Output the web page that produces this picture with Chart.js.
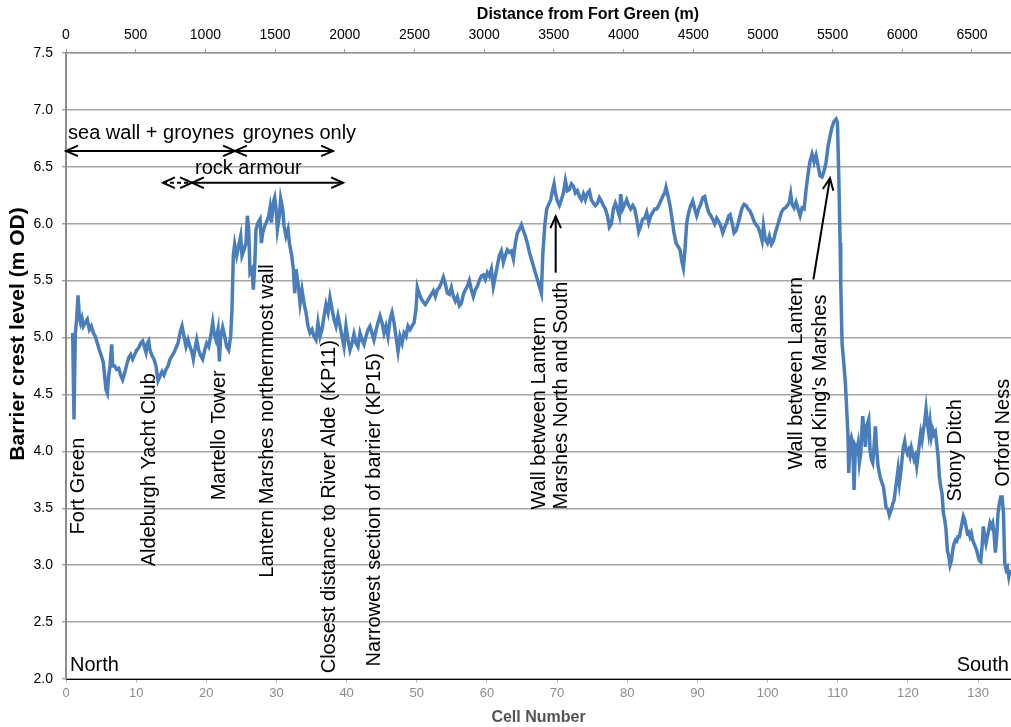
<!DOCTYPE html>
<html>
<head>
<meta charset="utf-8">
<script src="https://cdn.jsdelivr.net/npm/chart.js@4.4.0/dist/chart.umd.min.js"></script>
<style>
  html, body { margin: 0; padding: 0; background: #fff; }
  #wrap { width: 1011px; height: 727px; position: relative; }
</style>
</head>
<body>
<div id="wrap"><canvas id="profile"></canvas></div>
<script>
// Barrier crest profile
const cellNumber = [
  0.95, 1.14, 1.33, 1.52, 1.71, 1.90, 2.09, 2.28, 2.47, 2.76, 3.04, 3.33, 3.61, 3.90, 4.18, 4.47, 4.75, 5.04, 5.32, 5.51,
  5.70, 5.89, 6.08, 6.27, 6.51, 6.65, 6.94, 7.22, 7.51, 7.79, 8.08, 8.36, 8.65, 8.93, 9.22, 9.50, 9.79, 10.08, 10.36, 10.64,
  10.93, 11.21, 11.40, 11.59, 11.78, 11.97, 12.26, 12.54, 12.83, 13.12, 13.40, 13.69, 13.97, 14.26, 14.54, 14.83, 15.11, 15.40, 15.68, 15.97,
  16.25, 16.54, 16.82, 17.11, 17.39, 17.68, 17.96, 18.15, 18.44, 18.63, 18.91, 19.20, 19.48, 19.77, 20.05, 20.34, 20.62, 20.91, 21.10, 21.38,
  21.67, 21.86, 22.05, 22.33, 22.62, 22.90, 23.19, 23.47, 23.66, 23.85, 24.04, 24.33, 24.61, 24.90, 25.09, 25.37, 25.66, 25.85, 26.04, 26.23,
  26.51, 26.70, 26.90, 27.08, 27.37, 27.66, 27.85, 28.04, 28.32, 28.61, 28.89, 29.08, 29.27, 29.56, 29.75, 29.94, 30.13, 30.41, 30.60, 30.89,
  31.08, 31.36, 31.65, 31.84, 32.17, 32.41, 32.60, 32.79, 33.07, 33.36, 33.64, 33.93, 34.21, 34.50, 34.78, 35.07, 35.35, 35.64, 35.92, 36.21,
  36.49, 36.78, 37.06, 37.35, 37.63, 37.92, 38.20, 38.49, 38.77, 39.06, 39.34, 39.63, 39.91, 40.20, 40.48, 40.77, 41.05, 41.34, 41.62, 41.91,
  42.19, 42.48, 42.76, 43.05, 43.33, 43.62, 43.90, 44.19, 44.47, 44.76, 45.04, 45.33, 45.61, 45.90, 46.19, 46.47, 46.76, 47.04, 47.33, 47.61,
  47.90, 48.18, 48.47, 48.75, 49.04, 49.32, 49.61, 49.89, 50.08, 50.37, 50.65, 50.94, 51.22, 51.51, 51.79, 52.08, 52.36, 52.65, 52.93, 53.22,
  53.50, 53.79, 54.07, 54.36, 54.64, 54.93, 55.21, 55.50, 55.78, 56.07, 56.35, 56.64, 56.92, 57.21, 57.49, 57.78, 58.06, 58.35, 58.63, 58.92,
  59.20, 59.49, 59.77, 60.06, 60.34, 60.63, 60.91, 61.20, 61.48, 61.77, 62.05, 62.34, 62.62, 62.91, 63.20, 63.48, 63.77, 64.05, 64.34, 64.62,
  64.91, 65.19, 65.48, 65.76, 66.05, 66.33, 66.62, 66.90, 67.19, 67.47, 67.76, 67.95, 68.24, 68.52, 68.81, 69.09, 69.38, 69.57, 69.76, 70.04,
  70.33, 70.61, 70.90, 71.18, 71.47, 71.75, 72.04, 72.32, 72.61, 72.89, 73.18, 73.46, 73.75, 74.03, 74.32, 74.60, 74.89, 75.17, 75.46, 75.74,
  76.03, 76.31, 76.60, 76.88, 77.17, 77.45, 77.74, 78.02, 78.31, 78.59, 78.88, 79.07, 79.35, 79.64, 79.92, 80.21, 80.49, 80.78, 81.06, 81.35,
  81.63, 81.92, 82.20, 82.49, 82.77, 83.06, 83.35, 83.63, 83.92, 84.20, 84.49, 84.77, 85.06, 85.34, 85.53, 85.82, 86.10, 86.39, 86.67, 86.96,
  87.24, 87.53, 87.81, 88.00, 88.19, 88.48, 88.76, 89.05, 89.33, 89.62, 89.90, 90.19, 90.47, 90.76, 91.04, 91.33, 91.61, 91.90, 92.18, 92.47,
  92.76, 93.04, 93.33, 93.61, 93.90, 94.18, 94.47, 94.66, 94.94, 95.23, 95.51, 95.80, 96.08, 96.37, 96.65, 96.94, 97.22, 97.51, 97.79, 98.08,
  98.36, 98.65, 98.93, 99.22, 99.41, 99.69, 99.98, 100.26, 100.55, 100.83, 101.12, 101.40, 101.69, 101.97, 102.26, 102.54, 102.83, 103.11, 103.30, 103.50,
  103.78, 104.07, 104.35, 104.64, 104.92, 105.21, 105.49, 105.68, 105.87, 106.06, 106.34, 106.63, 106.91, 107.20, 107.48, 107.77, 108.05, 108.34, 108.62, 108.91,
  109.19, 109.48, 109.77, 109.96, 110.15, 110.34, 110.43, 110.62, 110.90, 111.09, 111.28, 111.47, 111.57, 111.76, 111.95, 112.14, 112.33, 112.52, 112.71, 112.90,
  113.09, 113.28, 113.56, 113.75, 113.94, 114.13, 114.42, 114.61, 114.80, 114.99, 115.18, 115.37, 115.56, 115.75, 116.03, 116.32, 116.51, 116.70, 116.89, 117.17,
  117.36, 117.65, 117.84, 118.03, 118.22, 118.41, 118.60, 118.79, 118.98, 119.17, 119.36, 119.55, 119.74, 119.93, 120.12, 120.31, 120.50, 120.69, 120.88, 121.07,
  121.26, 121.45, 121.64, 121.83, 122.02, 122.21, 122.40, 122.59, 122.78, 122.97, 123.16, 123.35, 123.54, 123.73, 123.92, 124.11, 124.30, 124.49, 124.68, 124.87,
  125.06, 125.25, 125.44, 125.63, 125.82, 126.01, 126.20, 126.39, 126.58, 126.77, 126.96, 127.15, 127.34, 127.53, 127.72, 127.91, 128.10, 128.29, 128.48, 128.67,
  128.86, 129.05, 129.24, 129.43, 129.62, 129.81, 130.00, 130.19, 130.38, 130.57, 130.76, 130.95, 131.14, 131.33, 131.52, 131.71, 131.90, 132.09, 132.28, 132.47,
  132.66, 132.85, 133.04, 133.23, 133.43, 133.62, 133.81, 134.00, 134.19, 134.38, 134.57
];

const crestLevel = [
  5.04, 4.28, 5.04, 5.16, 5.37, 5.19, 5.13, 5.17, 5.10, 5.13, 5.16, 5.07, 5.10, 5.04, 5.01, 4.95, 4.89, 4.84, 4.78, 4.66,
  4.54, 4.51, 4.66, 4.75, 4.94, 4.75, 4.75, 4.72, 4.73, 4.67, 4.63, 4.69, 4.76, 4.82, 4.85, 4.81, 4.85, 4.89, 4.91, 4.95,
  4.97, 4.91, 4.87, 4.95, 4.97, 4.89, 4.84, 4.81, 4.75, 4.62, 4.66, 4.70, 4.67, 4.72, 4.75, 4.81, 4.84, 4.87, 4.91, 4.95,
  5.04, 5.10, 5.01, 4.92, 4.98, 4.92, 4.87, 4.81, 4.92, 4.98, 4.89, 4.84, 4.81, 4.89, 4.95, 4.92, 5.01, 5.13, 5.04, 4.98,
  5.07, 4.79, 5.01, 5.09, 5.01, 4.92, 4.89, 5.01, 5.25, 5.72, 5.82, 5.72, 5.80, 5.89, 5.72, 5.77, 5.83, 6.07, 5.95, 5.57,
  5.60, 5.42, 5.63, 5.95, 6.01, 6.04, 5.83, 5.92, 5.98, 6.02, 6.07, 6.14, 6.01, 6.19, 6.23, 6.13, 5.95, 6.07, 6.22, 6.13,
  5.98, 5.89, 5.95, 5.83, 5.72, 5.60, 5.39, 5.60, 5.48, 5.30, 5.42, 5.30, 5.22, 5.10, 5.04, 5.07, 5.01, 4.98, 5.13, 5.01,
  5.07, 5.19, 5.29, 5.22, 5.35, 5.25, 5.16, 5.10, 5.19, 5.10, 5.01, 4.92, 5.10, 4.98, 4.89, 4.95, 5.03, 4.95, 4.92, 5.04,
  4.98, 4.94, 5.01, 5.07, 5.10, 5.04, 4.98, 5.06, 5.13, 5.19, 5.13, 5.04, 5.10, 5.01, 5.16, 5.22, 5.13, 5.01, 4.88, 5.01,
  4.95, 5.04, 5.01, 5.10, 5.07, 5.10, 5.13, 5.25, 5.44, 5.38, 5.34, 5.31, 5.29, 5.32, 5.35, 5.38, 5.41, 5.36, 5.42, 5.44,
  5.48, 5.53, 5.47, 5.39, 5.38, 5.44, 5.36, 5.32, 5.36, 5.28, 5.30, 5.38, 5.42, 5.45, 5.50, 5.42, 5.36, 5.42, 5.45, 5.50,
  5.54, 5.55, 5.51, 5.57, 5.54, 5.60, 5.45, 5.54, 5.63, 5.72, 5.76, 5.66, 5.72, 5.77, 5.75, 5.76, 5.69, 5.83, 5.92, 5.95,
  5.99, 5.94, 5.89, 5.83, 5.75, 5.69, 5.63, 5.57, 5.51, 5.45, 5.39, 5.72, 5.98, 6.13, 6.17, 6.21, 6.30, 6.35, 6.27, 6.20,
  6.16, 6.21, 6.27, 6.38, 6.29, 6.30, 6.35, 6.33, 6.27, 6.29, 6.24, 6.21, 6.26, 6.21, 6.27, 6.29, 6.21, 6.18, 6.16, 6.18,
  6.23, 6.20, 6.16, 6.13, 6.07, 5.97, 6.00, 6.13, 6.18, 6.13, 6.07, 6.26, 6.13, 6.17, 6.21, 6.16, 6.13, 6.16, 6.13, 6.04,
  5.93, 5.98, 6.04, 6.05, 6.10, 6.01, 6.07, 6.10, 6.13, 6.13, 6.16, 6.20, 6.24, 6.27, 6.32, 6.24, 6.16, 6.04, 5.92, 5.83,
  5.80, 5.77, 5.66, 5.61, 5.74, 6.01, 6.10, 6.16, 6.20, 6.13, 6.07, 6.13, 6.17, 6.23, 6.24, 6.16, 6.10, 6.07, 6.04, 6.00,
  6.05, 6.02, 5.98, 5.92, 5.97, 6.01, 6.07, 6.08, 6.01, 5.92, 5.94, 6.00, 6.07, 6.14, 6.17, 6.16, 6.13, 6.11, 6.07, 6.02,
  5.99, 5.97, 5.92, 5.85, 5.98, 5.86, 5.83, 5.89, 5.82, 5.85, 5.92, 5.98, 6.04, 6.10, 6.13, 6.14, 6.16, 6.19, 6.26, 6.17,
  6.14, 6.19, 6.13, 6.07, 6.14, 6.13, 6.30, 6.39, 6.48, 6.55, 6.61, 6.54, 6.60, 6.51, 6.42, 6.41, 6.46, 6.54, 6.68, 6.77,
  6.85, 6.90, 6.92, 6.89, 6.42, 5.83, 5.48, 4.95, 4.75, 4.60, 4.37, 4.13, 3.81, 4.07, 4.12, 4.07, 3.66, 4.04, 4.01, 4.07,
  3.90, 3.98, 4.31, 4.19, 4.04, 4.22, 4.28, 4.01, 3.93, 3.90, 4.04, 4.22, 4.01, 3.87, 3.78, 3.72, 3.69, 3.60, 3.51, 3.49,
  3.44, 3.49, 3.54, 3.57, 3.66, 3.75, 3.84, 3.72, 3.81, 3.93, 4.04, 4.09, 4.01, 3.98, 4.01, 3.96, 4.03, 3.98, 3.93, 3.96,
  3.87, 3.96, 4.07, 4.16, 4.10, 4.19, 4.26, 4.37, 4.25, 4.16, 4.26, 4.13, 4.19, 4.15, 4.17, 4.07, 3.96, 3.78, 3.69, 3.63,
  3.46, 3.40, 3.31, 3.13, 3.08, 3.00, 3.04, 3.13, 3.19, 3.22, 3.21, 3.25, 3.25, 3.31, 3.37, 3.43, 3.40, 3.34, 3.28, 3.29,
  3.25, 3.28, 3.22, 3.19, 3.16, 3.13, 3.08, 3.04, 3.03, 3.16, 3.34, 3.25, 3.19, 3.25, 3.31, 3.37, 3.34, 3.37, 3.28, 3.11,
  3.25, 3.46, 3.54, 3.60, 3.60, 3.46, 3.02, 2.96, 2.98, 2.90, 2.96
];

// axis extents and tick positions
const cellMax = 134.7;
const distanceMax = 6780;
const cellTicks = [0, 10, 20, 30, 40, 50, 60, 70, 80, 90, 100, 110, 120, 130];
const distanceTicks = [0, 500, 1000, 1500, 2000, 2500, 3000, 3500, 4000, 4500, 5000, 5500, 6000, 6500];

// vertical labels: [text, cell, level where text starts]
const sideLabels = [
  ['Fort Green', 1.71, 3.27],
  ['Aldeburgh Yacht Club', 11.83, 2.99],
  ['Martello Tower', 21.88, 3.57],
  ['Lantern Marshes northernmost wall', 28.65, 2.89],
  ['Closest distance to River Alde (KP11)', 37.56, 2.05],
  ['Narrowest section of barrier (KP15)', 43.98, 2.11],
  ['Wall between Lantern', 67.43, 3.49],
  ['Marshes North and South', 70.56, 3.49],
  ['Wall between Lantern', 104.06, 3.84],
  ["and King's Marshes", 107.48, 3.84],
  ['Stony Ditch', 126.73, 3.56],
  ['Orford Ness', 133.57, 3.69]
];

// horizontal labels: [text, cell, level of baseline, align]
const flatLabels = [
  ['sea wall + groynes', 0.29, 6.743, 'left'],
  ['groynes only', 25.19, 6.743, 'left'],
  ['rock armour', 18.39, 6.44, 'left'],
  ['North', 0.57, 2.069, 'left'],
  ['South', 134.4, 2.069, 'right']
];

// double headed arrows: [from cell, to cell, level, dashed]
const spans = [
  [0, 24.09, 6.64, false],
  [24.09, 38.06, 6.64, false],
  [17.96, 39.49, 6.36, false],
  [13.83, 17.96, 6.36, true]
];

// pointer arrows: [tail cell, tail level, head cell, head level]
const pointers = [
  [69.8, 5.57, 69.8, 6.065],
  [106.53, 5.51, 108.9, 6.40]
];

const FONT = '"Liberation Sans", Arial, sans-serif';
Chart.defaults.font.family = FONT;

function arrowHead(ctx, x, y, dx, dy) {
  const len = 13, ang = 0.42;
  const a = Math.atan2(dy, dx);
  ctx.beginPath();
  ctx.moveTo(x - len * Math.cos(a - ang), y - len * Math.sin(a - ang));
  ctx.lineTo(x, y);
  ctx.lineTo(x - len * Math.cos(a + ang), y - len * Math.sin(a + ang));
  ctx.stroke();
}

const fixedTicks = list => s => { s.ticks = list.map(v => ({ value: v })); };

const notesPlugin = {
  id: 'notes',
  afterDatasetsDraw(chart) {
    const { ctx, scales: { x, y } } = chart;
    ctx.save();
    ctx.fillStyle = '#000';
    ctx.strokeStyle = '#000';
    ctx.lineWidth = 2;

    // rotated site names
    ctx.font = '20px ' + FONT;
    sideLabels.forEach(([text, c, v]) => {
      ctx.save();
      ctx.translate(x.getPixelForValue(c), y.getPixelForValue(v));
      ctx.rotate(-Math.PI / 2);
      ctx.textAlign = 'left';
      ctx.textBaseline = 'middle';
      ctx.fillText(text, 0, 0);
      ctx.restore();
    });

    flatLabels.forEach(([text, c, v, align]) => {
      ctx.textAlign = align;
      ctx.textBaseline = 'alphabetic';
      ctx.fillText(text, x.getPixelForValue(c), y.getPixelForValue(v));
    });

    spans.forEach(([a, b, v, dashed]) => {
      const x1 = x.getPixelForValue(a), x2 = x.getPixelForValue(b), py = y.getPixelForValue(v);
      ctx.setLineDash(dashed ? [4, 3] : []);
      ctx.beginPath();
      ctx.moveTo(x1, py);
      ctx.lineTo(x2, py);
      ctx.stroke();
      ctx.setLineDash([]);
      arrowHead(ctx, x1, py, -1, 0);
      arrowHead(ctx, x2, py, 1, 0);
    });

    pointers.forEach(([c1, v1, c2, v2]) => {
      const x1 = x.getPixelForValue(c1), y1 = y.getPixelForValue(v1);
      const x2 = x.getPixelForValue(c2), y2 = y.getPixelForValue(v2);
      ctx.beginPath();
      ctx.moveTo(x1, y1);
      ctx.lineTo(x2, y2);
      ctx.stroke();
      arrowHead(ctx, x2, y2, x2 - x1, y2 - y1);
    });

    // axis titles that sit off-centre in the original
    ctx.font = 'bold 16px ' + FONT;
    ctx.textAlign = 'center';
    ctx.textBaseline = 'middle';
    ctx.fillText('Distance from Fort Green (m)', 588, 15);
    ctx.font = 'bold 21px ' + FONT;
    ctx.save();
    ctx.translate(18, 334);
    ctx.rotate(-Math.PI / 2);
    ctx.fillText('Barrier crest level (m OD)', 0, 0);
    ctx.restore();

    ctx.restore();
  }
};

new Chart(document.getElementById('profile'), {
  type: 'line',
  data: {
    datasets: [{
      label: 'Barrier crest level',
      data: cellNumber.map((c, i) => ({ x: c, y: crestLevel[i] })),
      borderColor: '#4a7ebb',
      borderWidth: 3.5,
      pointRadius: 0,
      tension: 0,
      fill: false
    }]
  },
  options: {
    responsive: true,
    maintainAspectRatio: false,
    animation: false,
    layout: { padding: 0 },
    plugins: {
      legend: { display: false },
      tooltip: { enabled: false }
    },
    scales: {
      x: {
        type: 'linear',
        position: 'bottom',
        min: 0,
        max: cellMax,
        afterBuildTicks: fixedTicks(cellTicks),
        afterFit: s => { s.height = 48; s.paddingRight = 0; },
        border: { color: '#000', width: 1 },
        grid: { drawOnChartArea: false, drawTicks: true, tickLength: 4, color: '#bbb' },
        ticks: { color: '#8c8c8c', font: { size: 13 }, padding: 3, maxRotation: 0, autoSkip: false },
        title: { display: true, text: 'Cell Number', color: '#555', font: { size: 16, weight: 'bold' }, padding: 0 }
      },
      x2: {
        type: 'linear',
        position: 'top',
        min: 0,
        max: distanceMax,
        afterBuildTicks: fixedTicks(distanceTicks),
        afterFit: s => { s.height = 53; s.paddingRight = 0; },
        border: { color: '#999', width: 1.5 },
        grid: { drawOnChartArea: false, drawTicks: true, tickLength: 4, color: '#999' },
        ticks: { color: '#000', font: { size: 14 }, padding: 5, maxRotation: 0, autoSkip: false, callback: v => String(v) }
      },
      y: {
        min: 2,
        max: 7.5,
        afterFit: s => { s.width = 66; },
        border: { color: '#8c8c8c', width: 2 },
        grid: { color: '#a6a6a6', lineWidth: 1.5, tickLength: 4 },
        ticks: { stepSize: 0.5, color: '#000', font: { size: 14 }, padding: 9, callback: v => v.toFixed(1) }
      }
    }
  },
  plugins: [notesPlugin]
});
</script>
</body>
</html>
